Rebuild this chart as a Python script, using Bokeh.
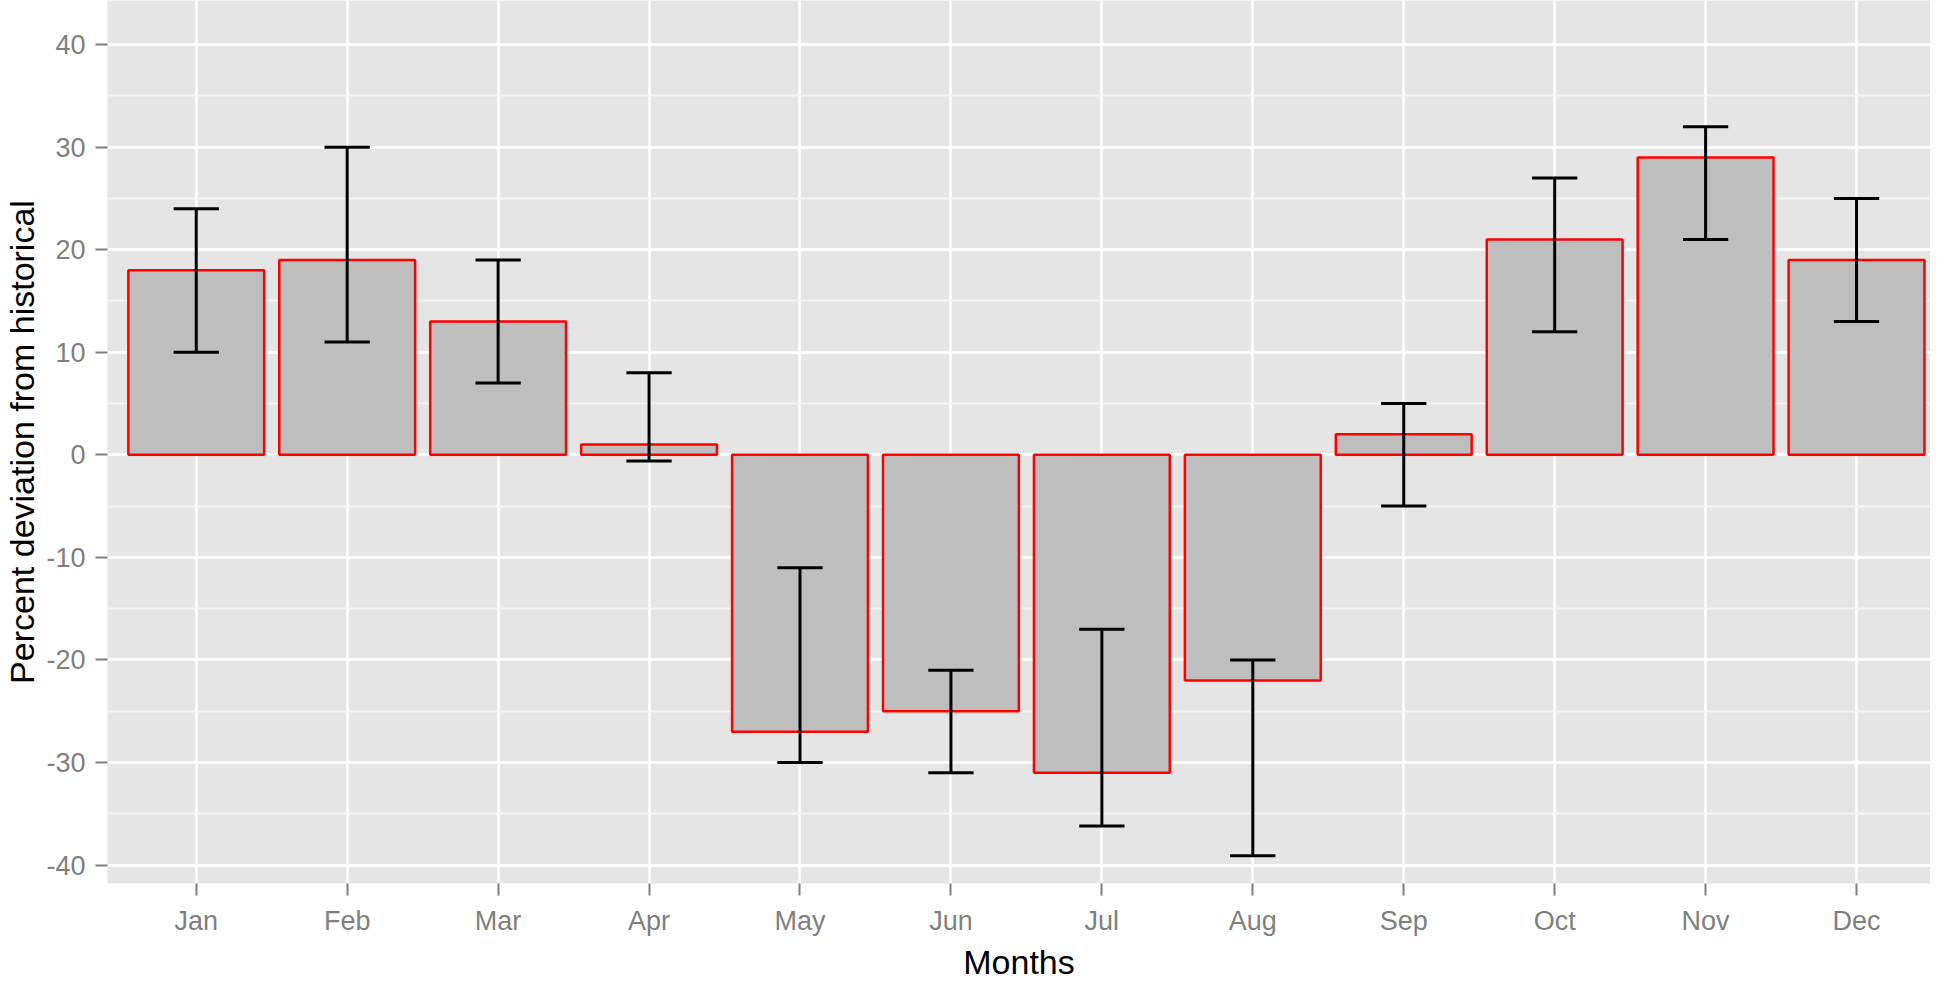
import numpy as np
from bokeh.plotting import figure
from bokeh.models import Range1d, FixedTicker, SingleIntervalTicker
from bokeh.embed import file_html
from bokeh.resources import INLINE

# ---- data ----
months = ["Jan", "Feb", "Mar", "Apr", "May", "Jun",
          "Jul", "Aug", "Sep", "Oct", "Nov", "Dec"]
deviation = [18, 19, 13, 1, -27, -25, -31, -22, 2, 21, 29, 19]
err_low = [10, 11, 7, -0.6, -30, -31, -36.2, -39.1, -5, 12, 21, 13]
err_high = [24, 30, 19, 8, -11, -21, -17, -20, 5, 27, 32, 25]
y_ticks = [-40, -30, -20, -10, 0, 10, 20, 30, 40]

x = np.arange(1, len(months) + 1)

FONT = "Liberation Sans"
GREY_TXT = "#7F7F7F"

p = figure(width=1930, height=983, output_backend="svg", toolbar_location=None,
           x_range=Range1d(0.412, 12.49), y_range=Range1d(-41.8, 44.3),
           min_border_left=98, min_border_right=0, min_border_top=0,
           min_border_bottom=0)

p.background_fill_color = "#E5E5E5"
p.border_fill_color = "white"
p.outline_line_color = None

# grid
p.ygrid.ticker = SingleIntervalTicker(interval=10, num_minor_ticks=2)
p.ygrid.grid_line_color = "white"
p.ygrid.grid_line_width = 2.5
p.ygrid.minor_grid_line_color = "#F4F4F4"
p.ygrid.minor_grid_line_width = 1.8
p.xgrid.ticker = FixedTicker(ticks=list(x))
p.xgrid.grid_line_color = "white"
p.xgrid.grid_line_width = 2.5

# bars
p.vbar(x=x, top=deviation, bottom=0, width=0.9,
       fill_color="#BEBEBE", line_color="#FF0000", line_width=2.5)

# error bars
p.segment(x0=x, y0=err_low, x1=x, y1=err_high, line_color="black", line_width=3)
cap = 0.15
p.segment(x0=x - cap, y0=err_high, x1=x + cap, y1=err_high, line_color="black", line_width=3)
p.segment(x0=x - cap, y0=err_low, x1=x + cap, y1=err_low, line_color="black", line_width=3)

# axes
for ax in (p.xaxis[0], p.yaxis[0]):
    ax.axis_line_color = None
    ax.major_tick_line_color = GREY_TXT
    ax.major_tick_line_width = 2
    ax.major_tick_out = 12
    ax.major_tick_in = 0
    ax.minor_tick_line_color = None
    ax.major_label_text_font = FONT
    ax.major_label_text_font_size = "27px"
    ax.major_label_text_color = GREY_TXT
    ax.axis_label_text_font = FONT
    ax.axis_label_text_font_size = "34px"
    ax.axis_label_text_font_style = "normal"
    ax.axis_label_text_color = "black"

p.yaxis.ticker = FixedTicker(ticks=y_ticks)
p.yaxis.major_label_overrides = {t: str(t) for t in y_ticks}
p.yaxis.major_label_standoff = 10
p.yaxis.axis_label = "Percent deviation from historical"
p.yaxis.axis_label_standoff = 2

p.xaxis.ticker = FixedTicker(ticks=list(x))
p.xaxis.major_label_overrides = {int(i): m for i, m in zip(x, months)}
p.xaxis.major_label_standoff = 10
p.xaxis.axis_label = "Months"
p.xaxis.axis_label_standoff = 4

open("out.html", "w").write(file_html(p, INLINE))
